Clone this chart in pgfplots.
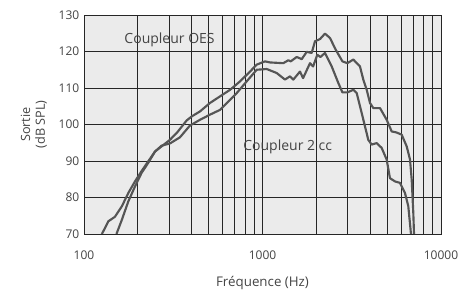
\documentclass[border=0pt]{standalone}
\usepackage{pgfplots}
\pgfplotsset{compat=1.18}
\usepackage{fontspec}
\setmainfont{Open Sans}
\definecolor{bg}{HTML}{EBEBEB}
\definecolor{curve}{HTML}{555555}
\definecolor{txt}{HTML}{444444}
\begin{document}
\begin{tikzpicture}
\begin{axis}[
  at={(0,0)}, anchor=south west,
  scale only axis, width=267.75pt, height=164.25pt,
  xmode=log, xmin=100, xmax=10000, ymin=70, ymax=130,
  log basis x=10,
  xtick={100,1000,10000}, xticklabels={100,1000,10000},
  minor xtick={200,300,400,500,600,700,800,900,2000,3000,4000,5000,6000,7000,8000,9000},
  ytick={70,80,90,100,110,120,130},
  grid=both,
  major grid style={draw=black!85, line width=0.7pt},
  minor grid style={draw=black!85, line width=0.7pt},
  axis line style={draw=black!85, line width=0.7pt},
  tick style={draw=none},
  axis background/.style={fill=bg},
  /pgf/number format/assume math mode=true,
  ticklabel style={font=\fontsize{9}{10}\selectfont, text=txt},
  xticklabel style={yshift=-9pt},
  xlabel={Fréquence (Hz)},
  xlabel style={font=\fontsize{10}{11}\selectfont, text=txt, yshift=-6pt},
  ylabel={Sortie\\(dB SPL)},
  ylabel style={font=\fontsize{9.5}{11}\selectfont, text=txt, align=center, yshift=2pt},
  clip=true,
]
\addplot[curve, line width=1.6pt, line join=round] coordinates {
(152,70) (163,73.9) (177,78.9) (193,83.0) (210,86.7) (229,89.5) (250,92.6) (272,94.0) (303,95.8) (331,97.7) (376,101.1) (401,102.2) (447,103.6) (508,105.9) (578,107.7) (658,109.5) (748,111.8) (851,114.5) (928,116.4) (1033,117.3) (1102,117.0) (1308,116.8) (1395,117.6) (1440,117.3) (1555,118.5) (1658,117.9) (1769,119.9) (1886,119.6) (1969,122.8) (2099,123.4) (2239,124.9) (2388,123.7) (2571,120.5) (2803,117.3) (2989,116.8) (3227,117.8) (3517,115.9) (3671,112.3) (3836,109.5) (4001,105.9) (4176,104.5) (4553,104.5) (4961,101.3) (5293,98.1) (5647,97.8) (6025,97.2) (6424,94.0) (6705,90.4) (6852,84.9) (6996,75.8) (7060,70)
};
\addplot[curve, line width=1.6pt, line join=round] coordinates {
(126,70) (137,73.5) (149,74.7) (163,77.6) (177,81.2) (193,84.4) (210,87.2) (229,89.9) (250,92.6) (272,94.2) (303,94.8) (345,96.5) (392,99.7) (447,101.3) (508,102.7) (578,104.0) (643,106.3) (717,108.6) (815,111.8) (928,115.0) (1056,115.2) (1201,114.1) (1337,112.3) (1425,113.2) (1488,112.3) (1622,114.5) (1688,112.7) (1845,116.8) (1921,115.9) (2028,119.1) (2112,118.5) (2239,119.6) (2442,115.9) (2658,111.4) (2803,108.8) (2989,108.8) (3227,109.5) (3371,108.6) (3517,105.0) (3751,99.5) (3914,95.8) (4088,94.5) (4360,94.9) (4650,93.6) (4961,90.4) (5176,85.3) (5525,84.4) (5893,84.0) (6285,81.2) (6558,77.6) (6790,70)
};
\node[anchor=west, text=txt, font=\fontsize{10.5}{12}\selectfont, inner sep=0pt] at (axis cs:168,123.2) {Coupleur OES};
\node[anchor=west, text=txt, font=\fontsize{10.5}{12}\selectfont, inner sep=0pt] at (axis cs:778,93.9) {Coupleur 2 cc};
\end{axis}
\pgfresetboundingbox
\path[use as bounding box] (-63pt,-42.75pt) rectangle (282.75pt,175.5pt);
\end{tikzpicture}
\end{document}
